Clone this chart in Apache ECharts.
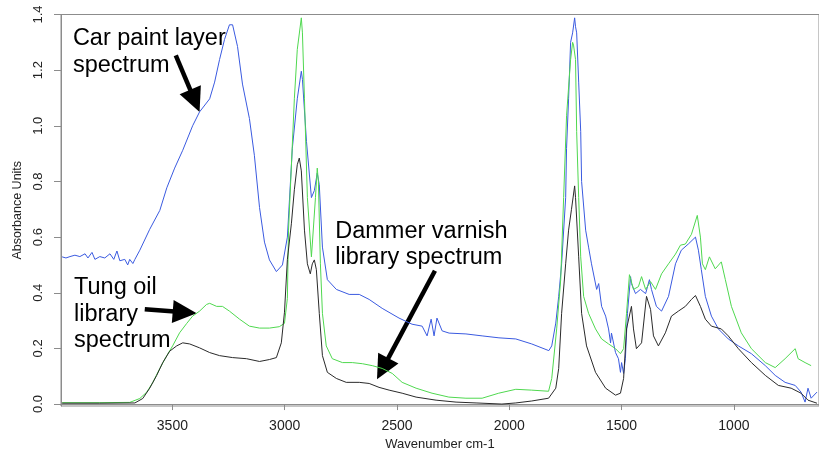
<!DOCTYPE html>
<html>
<head>
<meta charset="utf-8">
<script src="https://cdn.jsdelivr.net/npm/echarts@6/dist/echarts.min.js"></script>
<style>
  html, body { margin: 0; padding: 0; background: #fff; }
  #chart { width: 819px; height: 456px; }
</style>
</head>
<body>
<div id="chart"></div>
<script>
// wavenumbers (cm-1) and absorbance
const paintWn = [3991, 3974, 3956, 3934, 3912, 3889, 3876, 3858, 3845, 3823, 3801, 3778, 3761, 3747, 3734, 3712, 3699, 3690, 3676, 3667,
  3645, 3601, 3556, 3525, 3490, 3454, 3410, 3379, 3334, 3312, 3290, 3268, 3246, 3232, 3210, 3188, 3157, 3135, 3112, 3090,
  3068, 3037, 3010, 2988, 2966, 2944, 2926, 2921, 2903, 2881, 2868, 2855, 2846, 2832, 2810, 2770, 2713, 2668, 2624, 2566,
  2491, 2433, 2388, 2366, 2348, 2335, 2322, 2299, 2268, 2193, 2121, 2046, 1971, 1900, 1824, 1811, 1793, 1780, 1767, 1749,
  1745, 1736, 1727, 1718, 1709, 1705, 1700, 1691, 1682, 1678, 1660, 1647, 1634, 1611, 1602, 1589, 1571, 1558, 1549, 1545,
  1527, 1514, 1505, 1500, 1491, 1483, 1474, 1460, 1456, 1438, 1416, 1393, 1376, 1367, 1345, 1322, 1291, 1260, 1234, 1203,
  1171, 1158, 1145, 1127, 1100, 1069, 1025, 980, 922, 860, 816, 772, 727, 701, 683, 670, 656, 630];
const paintAbs = [0.529, 0.525, 0.53, 0.535, 0.53, 0.54, 0.525, 0.545, 0.52, 0.53, 0.525, 0.54, 0.52, 0.55, 0.515, 0.52, 0.50, 0.52, 0.505, 0.52,
  0.553, 0.628, 0.696, 0.777, 0.848, 0.912, 1.00, 1.05, 1.097, 1.157, 1.238, 1.31, 1.363, 1.363, 1.285, 1.15, 1.026, 0.894, 0.706, 0.582,
  0.518, 0.476, 0.50, 0.60, 0.919, 1.097, 1.196, 1.167, 0.944, 0.742, 0.767, 0.83, 0.788, 0.564, 0.447, 0.412, 0.394, 0.394, 0.376, 0.344,
  0.309, 0.287, 0.28, 0.245, 0.305, 0.245, 0.309, 0.263, 0.255, 0.252, 0.245, 0.238, 0.234, 0.216, 0.192, 0.209, 0.291, 0.387, 0.504, 0.742,
  0.919, 1.097, 1.30, 1.334, 1.388, 1.356, 1.334, 1.157, 0.979, 0.80, 0.625, 0.564, 0.504, 0.412, 0.433, 0.351, 0.316, 0.27, 0.22, 0.255,
  0.185, 0.163, 0.114, 0.149, 0.11, 0.163, 0.326, 0.458, 0.433, 0.397, 0.412, 0.397, 0.447, 0.412, 0.351, 0.334, 0.387, 0.504, 0.553, 0.575,
  0.60, 0.553, 0.483, 0.387, 0.316, 0.27, 0.234, 0.209, 0.181, 0.138, 0.103, 0.078, 0.067, 0.043, 0.007, 0.057, 0.021, 0.043];

const tungWn = [3991, 3823, 3690, 3645, 3614, 3587, 3556, 3525, 3499, 3468, 3436, 3410, 3379, 3348, 3334, 3303, 3277, 3246, 3201, 3157,
  3112, 3068, 3024, 3001, 2988, 2983, 2970, 2957, 2944, 2926, 2921, 2912, 2899, 2881, 2877, 2863, 2855, 2850, 2841, 2832,
  2815, 2788, 2743, 2699, 2654, 2610, 2566, 2521, 2477, 2415, 2344, 2269, 2193, 2121, 2047, 1971, 1900, 1825, 1811, 1789,
  1771, 1758, 1745, 1727, 1718, 1714, 1705, 1700, 1691, 1682, 1669, 1647, 1616, 1589, 1558, 1527, 1505, 1491, 1478, 1465,
  1447, 1425, 1411, 1393, 1371, 1349, 1322, 1291, 1260, 1238, 1216, 1189, 1163, 1149, 1140, 1127, 1109, 1083, 1056, 1038,
  1011, 967, 922, 860, 816, 772, 727, 714, 683, 656];
const tungAbs = [0.005, 0.005, 0.006, 0.02, 0.043, 0.078, 0.128, 0.174, 0.209, 0.256, 0.29, 0.316, 0.334, 0.358, 0.362, 0.351, 0.351, 0.334, 0.305, 0.28,
  0.273, 0.273, 0.278, 0.29, 0.38, 0.625, 0.859, 1.097, 1.274, 1.388, 1.334, 1.097, 0.742, 0.529, 0.575, 0.742, 0.848, 0.80, 0.504, 0.326,
  0.209, 0.163, 0.149, 0.149, 0.145, 0.138, 0.128, 0.11, 0.078, 0.057, 0.039, 0.025, 0.021, 0.021, 0.039, 0.053, 0.05, 0.046, 0.092, 0.27,
  0.447, 0.742, 1.036, 1.238, 1.30, 1.29, 1.238, 0.979, 0.742, 0.529, 0.387, 0.326, 0.27, 0.234, 0.216, 0.199, 0.181, 0.199, 0.326, 0.465,
  0.412, 0.422, 0.458, 0.412, 0.44, 0.412, 0.468, 0.504, 0.539, 0.571, 0.575, 0.61, 0.678, 0.60, 0.504, 0.483, 0.529, 0.486, 0.511, 0.447,
  0.351, 0.256, 0.199, 0.149, 0.131, 0.163, 0.199, 0.163, 0.149, 0.138];

const dammerWn = [3991, 3823, 3667, 3632, 3601, 3570, 3543, 3512, 3481, 3454, 3423, 3379, 3334, 3290, 3232, 3170, 3112, 3068, 3037, 3015,
  3001, 2988, 2970, 2957, 2944, 2935, 2926, 2912, 2899, 2886, 2877, 2868, 2859, 2846, 2832, 2810, 2770, 2726, 2668, 2624,
  2580, 2535, 2477, 2415, 2326, 2237, 2148, 2033, 1971, 1900, 1825, 1793, 1780, 1767, 1749, 1736, 1723, 1709, 1705, 1691,
  1678, 1656, 1616, 1571, 1527, 1505, 1491, 1478, 1456, 1447, 1434, 1411, 1389, 1371, 1358, 1336, 1305, 1278, 1247, 1216,
  1189, 1171, 1149, 1127, 1100, 1056, 1025, 980, 922, 860, 802, 745, 701, 670, 630];
const dammerAbs = [0.003, 0.003, 0.004, 0.02, 0.057, 0.103, 0.149, 0.19, 0.209, 0.22, 0.216, 0.202, 0.185, 0.174, 0.167, 0.163, 0.153, 0.16, 0.167, 0.22,
  0.33, 0.52, 0.65, 0.77, 0.86, 0.884, 0.838, 0.625, 0.504, 0.468, 0.504, 0.518, 0.483, 0.326, 0.174, 0.114, 0.092, 0.078, 0.078, 0.074,
  0.06, 0.05, 0.039, 0.025, 0.014, 0.007, 0.004, 0.0, 0.004, 0.011, 0.021, 0.057, 0.128, 0.326, 0.504, 0.625, 0.70, 0.784, 0.742, 0.529,
  0.326, 0.209, 0.114, 0.057, 0.032, 0.039, 0.092, 0.27, 0.351, 0.27, 0.199, 0.22, 0.387, 0.34, 0.245, 0.209, 0.256, 0.316, 0.334, 0.351,
  0.376, 0.39, 0.351, 0.305, 0.28, 0.27, 0.245, 0.199, 0.149, 0.103, 0.067, 0.057, 0.039, 0.014, 0.003];

const xTicks = [3500, 3000, 2500, 2000, 1500, 1000];
const yTicks = [0, 0.2, 0.4, 0.6, 0.8, 1.0, 1.2, 1.4];

// callouts: text box corner, arrow tail and arrow tip, all in [wavenumber, absorbance]
const notes = [
  { text: 'Car paint layer\nspectrum', at: [3943, 1.361], from: [3485, 1.253], to: [3379, 1.05] },
  { text: 'Tung oil\nlibrary\nspectrum', at: [3938, 0.466], from: [3623, 0.341], to: [3392, 0.326] },
  { text: 'Dammer varnish\nlibrary spectrum', at: [2775, 0.669], from: [2331, 0.479], to: [2589, 0.089] }
];

const font = 'Liberation Sans, Arial, sans-serif';
const pairs = (xs, ys) => xs.map((x, i) => [x, ys[i]]);

const chart = echarts.init(document.getElementById('chart'));

function spectrum(name, color, wn, abs) {
  return {
    name: name,
    type: 'line',
    data: pairs(wn, abs),
    showSymbol: false,
    silent: true,
    clip: true,
    lineStyle: { color: color, width: 1 }
  };
}

chart.setOption({
  animation: false,
  grid: { left: 61, right: -2, top: 14.5, bottom: 45, show: true, borderColor: '#8c8c8c', borderWidth: 1 },
  xAxis: {
    type: 'value',
    inverse: true,
    min: 621,
    max: 3996,
    name: 'Wavenumber cm-1',
    nameLocation: 'middle',
    nameGap: 32,
    nameTextStyle: { fontFamily: font, fontSize: 13, color: '#222' },
    axisLine: { show: true, lineStyle: { color: '#8c8c8c' } },
    axisTick: { show: true, length: 6, customValues: xTicks, lineStyle: { color: '#8c8c8c' } },
    axisLabel: { customValues: xTicks, margin: 13, fontFamily: font, fontSize: 14, color: '#222', formatter: v => String(v) },
    splitLine: { show: false }
  },
  yAxis: {
    type: 'value',
    min: -0.007,
    max: 1.4,
    name: 'Absorbance Units',
    nameLocation: 'middle',
    nameGap: 37,
    nameTextStyle: { fontFamily: font, fontSize: 12.5, color: '#222' },
    axisLine: { show: true, lineStyle: { color: '#8c8c8c' } },
    axisTick: { show: true, length: 7, customValues: yTicks, lineStyle: { color: '#8c8c8c' } },
    axisLabel: {
      customValues: yTicks,
      rotate: 90,
      margin: 16,
      fontFamily: font,
      fontSize: 13,
      color: '#222',
      formatter: v => v.toFixed(1)
    },
    splitLine: { show: false }
  },
  series: [
    spectrum('Car paint layer spectrum', '#3a5ae0', paintWn, paintAbs),
    spectrum('Tung oil library spectrum', '#4fd84f', tungWn, tungAbs),
    spectrum('Dammer varnish library spectrum', '#2a2a2a', dammerWn, dammerAbs)
  ]
});

// callout texts and arrows, placed through the axes
const px = p => chart.convertToPixel({ gridIndex: 0 }, p);
const graphics = [];
notes.forEach(n => {
  const t = px(n.at);
  graphics.push({
    type: 'text', left: t[0], top: t[1], silent: true,
    style: { text: n.text, fontFamily: font, fontSize: 23.5, lineHeight: 26.5, fill: '#000' }
  });
  const a = px(n.from), b = px(n.to);
  const dx = b[0] - a[0], dy = b[1] - a[1];
  const len = Math.hypot(dx, dy);
  const ux = dx / len, uy = dy / len;
  const headLen = 24, headHalf = 11.5;
  const bx = b[0] - ux * headLen, by = b[1] - uy * headLen;
  graphics.push({
    type: 'line', silent: true,
    shape: { x1: a[0], y1: a[1], x2: bx + ux * 2, y2: by + uy * 2 },
    style: { stroke: '#000', lineWidth: 4.5 }
  });
  graphics.push({
    type: 'polygon', silent: true,
    shape: { points: [[b[0], b[1]], [bx - uy * headHalf, by + ux * headHalf], [bx + uy * headHalf, by - ux * headHalf]] },
    style: { fill: '#000' }
  });
});
chart.setOption({ graphic: graphics });
</script>
</body>
</html>
